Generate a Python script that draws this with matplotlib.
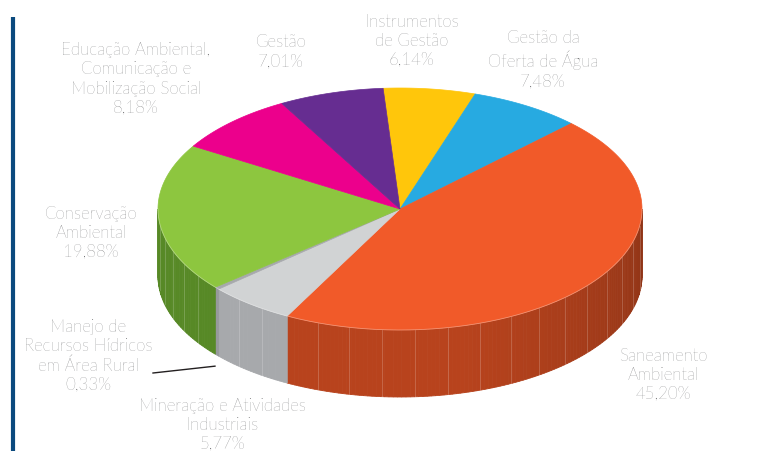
import numpy as np
import matplotlib
matplotlib.use("Agg")
import matplotlib.pyplot as plt
from matplotlib.patches import Polygon
from matplotlib import colors as mcolors

# ---- data ----
categories = ["Instrumentos\nde Gestão", "Gestão da\nOferta de Água", "Saneamento\nAmbiental",
              "Mineração e Atividades\nIndustriais", "Manejo de\nRecursos Hídricos\nem Área Rural",
              "Conservação\nAmbiental", "Educação Ambiental,\nComunicação e\nMobilização Social",
              "Gestão"]
values = [6.14, 7.48, 45.20, 5.77, 0.33, 19.88, 8.18, 7.01]
top_colors = ["#FFC60B", "#27AAE1", "#F15A29", "#D1D3D4", "#A7A9AC", "#8DC63F", "#EC008C", "#662D91"]
side_colors = ["#C99A08", "#1E86B1", "#B8431D", "#A7A9AC", "#97999C", "#578926", "#B8006D", "#4F2270"]
# label centre positions (pixels)
label_pos = [(412, 41), (543, 60), (663, 375), (222, 425), (88, 356), (91, 233), (136, 79), (281, 52)]

# ---- figure ----
W, H = 761, 452
fig = plt.figure(figsize=(W / 100, H / 100), dpi=100)
ax = fig.add_axes([0, 0, 1, 1])
ax.set_xlim(0, W)
ax.set_ylim(H, 0)
ax.axis("off")

cx, cy, a, b, depth = 400, 210, 242, 121, 67
start = 94.0

def top_pt(t):
    r = np.radians(t)
    return cx + a * np.cos(r), cy - b * np.sin(r)

def bot_pt(t):
    x, y = top_pt(t)
    return x, y + depth

def shade(col, t):
    f = 1.0 - 0.22 * max(0.0, (t + 75) / 75)
    rgb = np.array(mcolors.to_rgb(col)) * f
    return np.clip(rgb, 0, 1)

total = sum(values)
angles = []
cum = 0.0
for v in values:
    t0 = start - cum / total * 360
    t1 = start - (cum + v) / total * 360
    angles.append((t0, t1))
    cum += v

# side faces (front half: -180..0)
for (t0, t1), sc in zip(angles, side_colors):
    lo, hi = max(t1, -180), min(t0, 0)
    if hi <= lo:
        continue
    n = max(2, int((hi - lo) / 1.0) + 1)
    ts = np.linspace(lo, hi, n)
    for i in range(n - 1):
        ta, tb = ts[i], ts[i + 1]
        pts = [top_pt(ta), top_pt(tb), bot_pt(tb), bot_pt(ta)]
        c = shade(sc, (ta + tb) / 2)
        ax.add_patch(Polygon(pts, closed=True, facecolor=c, edgecolor=c, lw=0.6, zorder=2))
    # facet lines
    k = int((hi - lo) / 8)
    for j in range(1, k + 1):
        t = lo + j * (hi - lo) / (k + 1)
        x0, y0 = top_pt(t)
        x1, y1 = bot_pt(t)
        ax.plot([x0, x1], [y0, y1], color="white", lw=0.6, alpha=0.22, zorder=3)

# top faces
for (t0, t1), tc in zip(angles, top_colors):
    ts = np.linspace(t0, t1, max(3, int(abs(t0 - t1)) * 2))
    pts = [(cx, cy)] + [top_pt(t) for t in ts]
    ax.add_patch(Polygon(pts, closed=True, facecolor=tc, edgecolor=tc, lw=0.5, zorder=4))

# light rim along the front edge of the top face
ts = np.linspace(-180, 0, 200)
rim = np.array([top_pt(t) for t in ts])
ax.plot(rim[:, 0], rim[:, 1], color="white", lw=0.6, alpha=0.35, zorder=5)

# labels
txt_color = "#58595B"
for lab, v, (x, y) in zip(categories, values, label_pos):
    s = lab + "\n" + f"{v:.2f}".replace(".", ",") + "%"
    ax.text(x, y, s, ha="center", va="center", multialignment="center",
            fontsize=12.2, color=txt_color, family="Lato", fontweight="light",
            linespacing=1.26, zorder=6)

# leader line for the small slice
i_m = 4
tm = (angles[i_m][0] + angles[i_m][1]) / 2
bx, by = bot_pt(tm)
ax.plot([153, bx - 2], [374, by + 11], color="#231F20", lw=1.0, zorder=6)

# left accent bar
ax.plot([13, 13], [18, H], color="#0B4A7E", lw=3, solid_capstyle="butt", zorder=6)

fig.savefig("out.png", dpi=100)
